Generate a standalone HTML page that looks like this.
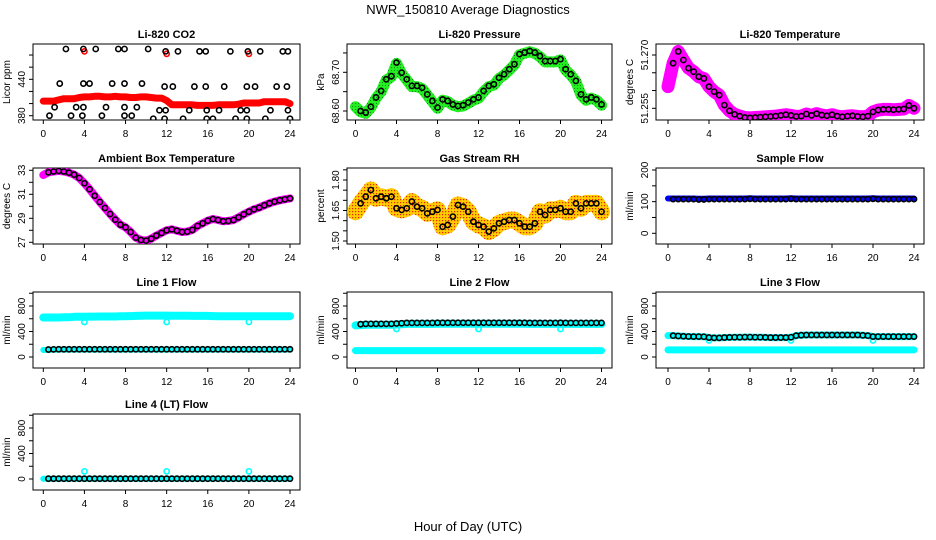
<!DOCTYPE html>
<html><head><meta charset="utf-8"><style>
html,body{margin:0;padding:0;background:#fff;}
svg{display:block;font-family:"Liberation Sans",sans-serif;}
</style></head><body>
<svg id="c" width="936" height="540" viewBox="0 0 936 540">
<defs>
<pattern id="rhpat" width="3" height="3" patternUnits="userSpaceOnUse"><rect width="3" height="3" fill="#ffcc00"/><rect x="1" y="1" width="1.2" height="1.2" fill="#ee2200"/></pattern>
<pattern id="grpat" width="3" height="3" patternUnits="userSpaceOnUse"><rect width="3" height="3" fill="#22ee22"/><rect x="1" y="1" width="1" height="1" fill="#118811"/></pattern>
</defs>
<text x="468" y="14" text-anchor="middle" font-size="13">NWR_150810  Average Diagnostics</text>
<text x="468" y="531" text-anchor="middle" font-size="13">Hour of Day (UTC)</text>
</svg>
<script>
// ---- data ----
const xTicks = [0,4,8,12,16,20,24];
const co2Band = [404,404,404,406,408,408,408,410,411,411,412,412,411,411,412,411,411,410,410,411,411,410,409,409,405,398,398,398,398,398,397,397,397,397,398,398,398,398,399,401,401,401,401,403,403,403,403,403,400];
const co2PtHours = [2.2,3.9,5.1,7.3,7.9,10.2,11.9,13.1,15.2,15.8,18.2,19.9,21.1,23.3,23.8, 1.6,3.9,4.5,6.7,7.9,9.6, 11.8,12.6,14.7,15.8,17.6,19.8,20.6,22.7,23.7, 1.1,3.2,3.9,6.1,7.9,9.1, 11.3,11.9,14.2,15.9,17.1,19.2,19.8,22.1,23.8, 0.6,2.7,3.8,5.7,7.9,8.6, 10.7,11.8,13.6,15.9,16.5,18.7,19.8,21.6,24];
const co2PtVals = [490,490,490,490,490,490,486,486,486,486,486,486,486,486,486, 433,433,433,433,433,433, 428,428,428,428,428,428,428,428,428, 394,394,394,394,394,394, 389,389,389,389,389,389,389,389,389, 380,380,380,380,380,380, 375,375,375,375,375,375,375,375,375];
const co2RedHours = [4,12,20];
const co2RedVals = [486,482,482];
const pressure = [68.611,68.598,68.594,68.609,68.633,68.650,68.680,68.688,68.723,68.697,68.680,68.663,68.663,68.658,68.641,68.624,68.607,68.628,68.624,68.615,68.611,68.613,68.620,68.628,68.633,68.650,68.663,68.667,68.684,68.693,68.706,68.719,68.745,68.749,68.753,68.749,68.740,68.727,68.727,68.727,68.732,68.706,68.693,68.676,68.641,68.628,68.633,68.628,68.615];
const liTemp = [51.2611,51.2677,51.2710,51.2686,51.2663,51.2653,51.2639,51.2634,51.2611,51.2597,51.2587,51.2559,51.2543,51.2533,51.2528,51.2524,51.2523,51.2524,51.2525,51.2526,51.2527,51.2528,51.2530,51.2532,51.2530,51.2527,51.2528,51.2534,51.2530,51.2535,51.2531,51.2529,51.2532,51.2528,51.2526,51.2528,51.2529,51.2527,51.2526,51.2528,51.2540,51.2545,51.2547,51.2547,51.2546,51.2547,51.2548,51.2558,51.2550];
const ambient = [32.61,32.83,32.90,32.95,32.90,32.80,32.64,32.36,31.92,31.42,30.88,30.36,29.86,29.36,28.89,28.47,28.25,27.86,27.39,27.19,27.14,27.30,27.56,27.78,28.00,28.08,27.97,27.86,27.89,28.03,28.36,28.58,28.80,28.94,28.86,28.75,28.78,28.86,29.08,29.33,29.55,29.75,29.89,30.08,30.25,30.39,30.50,30.58,30.66];
const rh = [1.644,1.685,1.718,1.751,1.710,1.718,1.710,1.718,1.661,1.653,1.661,1.694,1.669,1.661,1.636,1.644,1.653,1.570,1.579,1.620,1.677,1.669,1.644,1.595,1.579,1.570,1.546,1.562,1.587,1.595,1.603,1.603,1.587,1.570,1.570,1.587,1.644,1.628,1.653,1.653,1.661,1.644,1.644,1.685,1.661,1.685,1.685,1.685,1.644];
const sampleFlow = [110,110,110,110,110,110,109,109,110,110,110,110,110,110,110,110,111,110,110,110,110,110,110,110,111,110,110,110,110,110,110,110,110,110,110,110,110,110,110,110,111,110,110,110,110,110,110,110,110];
const line1Hi = [620,620,620,620,622,622,630,632,632,634,634,635,635,636,636,638,640,642,645,648,650,650,650,650,650,648,648,646,646,645,645,645,644,642,640,640,640,640,638,638,638,640,640,640,640,640,640,640,640];
const line1Lo = [110,112,115,116,116,116,116,116,116,116,116,116,116,116,116,116,116,116,116,116,116,116,116,116,116,116,116,116,116,116,116,116,116,116,116,116,116,116,116,116,116,116,116,116,116,116,116,116,116];
const line2Hi = [495,500,505,505,505,505,505,505,510,515,520,520,520,520,520,520,522,522,522,522,522,522,522,522,522,522,522,522,522,522,522,522,522,522,520,520,520,520,520,520,522,520,520,520,520,520,520,520,520];
const line2Lo = [100,100,100,100,100,100,100,100,100,100,100,100,100,100,100,100,100,100,100,100,100,100,100,100,100,100,100,100,100,100,100,100,100,100,100,100,100,100,100,100,100,100,100,100,100,100,100,100,100];
const line3Hi = [335,335,330,325,322,320,320,318,305,300,300,305,308,310,310,312,312,310,310,308,305,305,305,305,310,335,342,345,345,345,345,345,345,345,345,345,345,345,340,335,320,320,320,320,320,320,320,320,320];
const line3Lo = [112,112,112,112,112,112,112,112,112,112,112,112,112,112,112,112,112,112,112,112,112,112,112,112,112,112,112,112,112,112,112,112,112,112,112,112,112,112,112,112,112,112,112,112,112,112,112,112,112];
const line4 = [5,5,5,5,5,5,5,5,5,5,5,5,5,5,5,5,5,5,5,5,5,5,5,5,5,5,5,5,5,5,5,5,5,5,5,5,5,5,5,5,5,5,5,5,5,5,5,5,5];
const dipHours = [4,12,20];
const line1Dips = [550,550,550];
const line2Dips = [440,440,440];
const line3Dips = [260,260,260];
const line4Dips = [120,120,120];

const hours = [];
for (let i = 0; i <= 48; i++) hours.push(i / 2);

// ---- layout ----
const NS = 'http://www.w3.org/2000/svg';
const svg = document.getElementById('c');
const cols = [{x0:33,x1:300,h0:43.3,h24:290},{x0:347,x1:612,h0:355.5,h24:601.5},{x0:656,x1:924,h0:668,h24:914}];
const rowsTop = [44,168,292,414];
const PH = 76;

function mk(tag, attrs, parent) {
  const e = document.createElementNS(NS, tag);
  for (const k in attrs) e.setAttribute(k, attrs[k]);
  (parent || svg).appendChild(e);
  return e;
}

function panel(o) {
  const c = cols[o.col], top = rowsTop[o.row], bot = top + PH;
  const g = mk('g', {});
  
  
  const xs = h => c.h0 + (c.h24 - c.h0) * h / 24;
  const k = (o.b[1] - o.a[1]) / (o.b[0] - o.a[0]);
  const ys = v => o.a[1] + (v - o.a[0]) * k;
  const box = mk('rect', {x:c.x0, y:top, width:c.x1-c.x0, height:PH, fill:'none', stroke:'#000', 'stroke-width':1}, g);
  
  
  const t = mk('text', {x:(c.x0+c.x1)/2, y:top-6, 'text-anchor':'middle', 'font-size':11, 'font-weight':'bold'}, g);
  t.textContent = o.title;
  
  
  const yl = mk('text', {x:0, y:0, 'text-anchor':'middle', 'font-size':10, transform:`translate(${c.x0-23},${top+PH/2}) rotate(-90)`}, g);
  yl.textContent = o.ylab;
  
  
  xTicks.forEach(h => {
    mk('line', {x1:xs(h), x2:xs(h), y1:bot, y2:bot+4, stroke:'#000'}, g);
    const tl = mk('text', {x:xs(h), y:bot+17, 'text-anchor':'middle', 'font-size':10}, g);
    tl.textContent = h;
    
    
  });
  o.ticks.forEach(v => {
    const y = ys(v);
    mk('line', {x1:c.x0-4, x2:c.x0, y1:y, y2:y, stroke:'#000'}, g);
  });
  o.labels.forEach((v, i) => {
    const y = ys(v);
    const tl = mk('text', {x:0, y:0, 'text-anchor':'middle', 'font-size':10, transform:`translate(${c.x0-8},${y}) rotate(-90)`}, g);
    tl.textContent = o.labelText[i];
    
    
  });
  const clip = 'clip' + o.name;
  const cp = mk('clipPath', {id:clip}, g);
  mk('rect', {x:c.x0, y:top, width:c.x1-c.x0, height:PH}, cp);
  const data = mk('g', {'clip-path':`url(#${clip})`}, g);
  return {g:data, xs, ys};
}

function band(p, vals, color, w, name) {
  let d = '';
  vals.forEach((v, i) => { d += (i ? 'L' : 'M') + p.xs(hours[i]).toFixed(1) + ' ' + p.ys(v).toFixed(1); });
  const e = mk('path', {d, fill:'none', stroke:color, 'stroke-width':w, 'stroke-linejoin':'round', 'stroke-linecap':'round'}, p.g);
  
  
}
function pts(p, hs, vals, color, name, r) {
  vals.forEach((v, i) => {
    const e = mk('circle', {cx:p.xs(hs[i]), cy:p.ys(v), r:r||2.6, fill:'none', stroke:color, 'stroke-width':1.6}, p.g);
    
    
  });
}
function avgPts(p, vals, color, name, off) {
  const hs = [], vs = [];
  vals.forEach((v, i) => { if (i > 0) { hs.push(hours[i]); vs.push(v + (off||0)); } });
  pts(p, hs, vs, color, name);
}

// CO2
let p = panel({name:'co2-panel', col:0, row:0, title:'Li-820 CO2', ylab:'Licor ppm', a:[380,115.7], b:[440,79.3], ticks:[380,400,420,440,460,480], labels:[380,440], labelText:['380','440']});
band(p, co2Band, '#ff0000', 7, 'co2-band');
pts(p, co2RedHours, co2RedVals, '#ff0000', 'co2-red-point');
pts(p, co2PtHours, co2PtVals, '#000', 'co2-avg-point');

// Pressure
p = panel({name:'pressure-panel', col:1, row:0, title:'Li-820 Pressure', ylab:'kPa', a:[68.60,111], b:[68.70,72.3], ticks:[68.60,68.65,68.70,68.75], labels:[68.60,68.70], labelText:['68.60','68.70']});
band(p, pressure, 'url(#grpat)', 11, 'pressure-band');
avgPts(p, pressure, '#000', 'pressure-avg-point', 0.002);

// Li temp
p = panel({name:'li-temp-panel', col:2, row:0, title:'Li-820 Temperature', ylab:'degrees C', a:[51.255,108.3], b:[51.270,55], ticks:[51.255,51.260,51.265,51.270], labels:[51.255,51.270], labelText:['51.255','51.270']});
band(p, liTemp, '#ff00ff', 13, 'li-temp-band');
avgPts(p, liTemp, '#000', 'li-temp-avg-point');

// Ambient
p = panel({name:'ambient-panel', col:0, row:1, title:'Ambient Box Temperature', ylab:'degrees C', a:[27,242.3], b:[33,170.3], ticks:[27,28,29,30,31,32,33], labels:[27,29,31,33], labelText:['27','29','31','33']});
band(p, ambient, '#ff00ff', 8, 'ambient-band');
avgPts(p, ambient, '#000', 'ambient-avg-point');

// RH
p = panel({name:'rh-panel', col:1, row:1, title:'Gas Stream RH', ylab:'percent', a:[1.50,241], b:[1.80,180], ticks:[1.50,1.55,1.60,1.65,1.70,1.75,1.80,1.85], labels:[1.50,1.65,1.80], labelText:['1.50','1.65','1.80']});
band(p, rh, 'url(#rhpat)', 17, 'rh-band');
avgPts(p, rh, '#000', 'rh-avg-point');

// Sample flow
p = panel({name:'sample-flow-panel', col:2, row:1, title:'Sample Flow', ylab:'ml/min', a:[0,233.3], b:[200,170], ticks:[0,50,100,150,200], labels:[0,100,200], labelText:['0','100','200']});
band(p, sampleFlow, '#0000ff', 6, 'sample-flow-band');
avgPts(p, sampleFlow, '#000', 'sample-flow-avg-point', -2);

const flowTicks = [0,200,400,600,800,1000];
// Line 1
p = panel({name:'line1-panel', col:0, row:2, title:'Line 1 Flow', ylab:'ml/min', a:[0,357], b:[800,306], ticks:flowTicks, labels:[0,400,800], labelText:['0','400','800']});
band(p, line1Hi, '#00ffff', 8, 'line1-high-band');
band(p, line1Lo, '#00ffff', 6, 'line1-low-band');
pts(p, dipHours, line1Dips, '#00ffff', 'line1-dip');
avgPts(p, line1Lo, '#000', 'line1-avg-point', 5);

// Line 2
p = panel({name:'line2-panel', col:1, row:2, title:'Line 2 Flow', ylab:'ml/min', a:[0,357], b:[800,306], ticks:flowTicks, labels:[0,400,800], labelText:['0','400','800']});
band(p, line2Hi, '#00ffff', 8, 'line2-high-band');
band(p, line2Lo, '#00ffff', 7, 'line2-low-band');
pts(p, dipHours, line2Dips, '#00ffff', 'line2-dip');
avgPts(p, line2Hi, '#000', 'line2-avg-point', 15);

// Line 3
p = panel({name:'line3-panel', col:2, row:2, title:'Line 3 Flow', ylab:'ml/min', a:[0,357], b:[800,306], ticks:flowTicks, labels:[0,400,800], labelText:['0','400','800']});
band(p, line3Hi, '#00ffff', 7, 'line3-high-band');
band(p, line3Lo, '#00ffff', 7, 'line3-low-band');
pts(p, dipHours, line3Dips, '#00ffff', 'line3-dip');
avgPts(p, line3Hi, '#000', 'line3-avg-point');

// Line 4
p = panel({name:'line4-panel', col:0, row:3, title:'Line 4 (LT) Flow', ylab:'ml/min', a:[0,479], b:[800,428], ticks:flowTicks, labels:[0,400,800], labelText:['0','400','800']});
band(p, line4, '#00ffff', 6, 'line4-band');
pts(p, dipHours, line4Dips, '#00ffff', 'line4-dip');
avgPts(p, line4, '#000', 'line4-avg-point');
</script>
</body></html>
